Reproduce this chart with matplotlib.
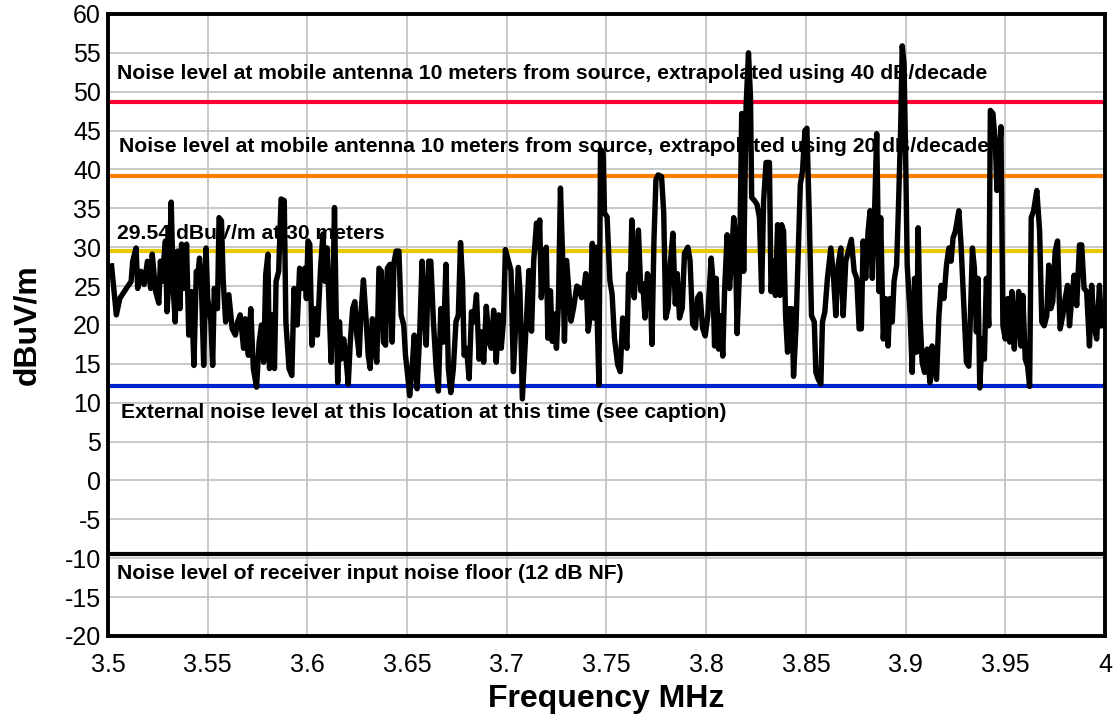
import matplotlib
matplotlib.use("Agg")
import matplotlib.pyplot as plt

plt.rcParams['font.family'] = ['Liberation Sans', 'DejaVu Sans']
plt.rcParams['axes.unicode_minus'] = False

# measured noise trace (MHz, dBuV/m)
freq = [
    3.5018, 3.5042, 3.5059, 3.5092, 3.5116, 3.5124, 3.5141, 3.5149, 3.5165, 3.5181,
    3.5198, 3.5214, 3.5222, 3.5239, 3.5255, 3.5263, 3.5271, 3.5288, 3.5296, 3.5307,
    3.5317, 3.5328, 3.5337, 3.5348, 3.5361, 3.5369, 3.5382, 3.5394, 3.5405, 3.5418,
    3.5431, 3.5443, 3.5451, 3.5459, 3.5467, 3.5480, 3.5492, 3.5500, 3.5516, 3.5525,
    3.5533, 3.5549, 3.5557, 3.5569, 3.5578, 3.5590, 3.5606, 3.5623, 3.5639, 3.5650,
    3.5663, 3.5680, 3.5688, 3.5704, 3.5716, 3.5729, 3.5745, 3.5758, 3.5770, 3.5781,
    3.5791, 3.5802, 3.5810, 3.5822, 3.5835, 3.5843, 3.5856, 3.5868, 3.5884, 3.5892,
    3.5908, 3.5922, 3.5933, 3.5949, 3.5961, 3.5974,
    3.5987, 3.5995, 3.6003, 3.6012, 3.6023, 3.6036, 3.6050, 3.6066, 3.6078, 3.6089,
    3.6099, 3.6111, 3.6119, 3.6127, 3.6136, 3.6144, 3.6152, 3.6161, 3.6169, 3.6182,
    3.6194, 3.6205, 3.6215, 3.6227, 3.6238, 3.6248, 3.6260, 3.6268, 3.6281, 3.6293,
    3.6305, 3.6315, 3.6326, 3.6338, 3.6348, 3.6359, 3.6371, 3.6381, 3.6392, 3.6401,
    3.6414, 3.6425, 3.6434, 3.6445, 3.6459, 3.6470, 3.6483, 3.6492, 3.6503, 3.6513,
    3.6525, 3.6536, 3.6550, 3.6563, 3.6575, 3.6586, 3.6596, 3.6608, 3.6619, 3.6632,
    3.6646, 3.6657, 3.6669, 3.6682, 3.6695, 3.6707, 3.6719, 3.6732, 3.6745, 3.6757,
    3.6768, 3.6778, 3.6786, 3.6798, 3.6811, 3.6823, 3.6834, 3.6848, 3.6861, 3.6873,
    3.6884, 3.6897, 3.6911, 3.6922, 3.6934, 3.6947, 3.6959, 3.6972, 3.6983, 3.6993,
    3.7021, 3.7033, 3.7045, 3.7058, 3.7066, 3.7078, 3.7087, 3.7099, 3.7111, 3.7124,
    3.7135, 3.7149, 3.7157, 3.7165, 3.7173, 3.7186, 3.7198, 3.7206, 3.7219, 3.7228,
    3.7239, 3.7249, 3.7259, 3.7269, 3.7281, 3.7289, 3.7300, 3.7310, 3.7322, 3.7335,
    3.7351, 3.7363, 3.7375, 3.7384, 3.7396, 3.7408, 3.7417, 3.7429, 3.7437, 3.7447,
    3.7454, 3.7462, 3.7470, 3.7483, 3.7490, 3.7503, 3.7517, 3.7528, 3.7540, 3.7556,
    3.7569, 3.7581, 3.7594, 3.7602, 3.7611, 3.7619, 3.7627, 3.7639, 3.7649, 3.7660,
    3.7672, 3.7682, 3.7693, 3.7705, 3.7718, 3.7728, 3.7738, 3.7748, 3.7759, 3.7776,
    3.7787, 3.7797, 3.7809, 3.7820, 3.7833, 3.7845, 3.7855, 3.7866, 3.7880, 3.7891,
    3.7908, 3.7919, 3.7932, 3.7946, 3.7957, 3.7969, 3.7982,
    3.7995, 3.8008, 3.8025, 3.8033, 3.8042, 3.8050, 3.8062, 3.8075, 3.8083, 3.8092,
    3.8105, 3.8117, 3.8125, 3.8138, 3.8145, 3.8155, 3.8167, 3.8178, 3.8188, 3.8200,
    3.8212, 3.8222, 3.8228, 3.8242, 3.8255, 3.8267, 3.8278, 3.8288, 3.8300, 3.8317,
    3.8325, 3.8338, 3.8347, 3.8358, 3.8370, 3.8378, 3.8388, 3.8398, 3.8408, 3.8417,
    3.8430, 3.8438, 3.8450, 3.8462, 3.8472, 3.8483, 3.8495, 3.8505, 3.8517, 3.8528,
    3.8542, 3.8550, 3.8562, 3.8575, 3.8583, 3.8595, 3.8608, 3.8625, 3.8638, 3.8650,
    3.8662, 3.8675, 3.8687, 3.8700, 3.8717, 3.8728, 3.8742, 3.8755, 3.8767, 3.8778,
    3.8787, 3.8800, 3.8812, 3.8822, 3.8833, 3.8845, 3.8855, 3.8867, 3.8875, 3.8888,
    3.8900, 3.8912, 3.8922, 3.8933, 3.8942, 3.8955, 3.8963, 3.8975, 3.8983,
    3.8992, 3.9000, 3.9008, 3.9022, 3.9033, 3.9045, 3.9055, 3.9063, 3.9072, 3.9083,
    3.9095, 3.9108, 3.9122, 3.9133, 3.9142, 3.9155, 3.9167, 3.9178, 3.9192, 3.9205,
    3.9217, 3.9228, 3.9238, 3.9250, 3.9267, 3.9278, 3.9292, 3.9305, 3.9317, 3.9325,
    3.9335, 3.9345, 3.9355, 3.9363, 3.9372, 3.9383, 3.9395, 3.9405, 3.9417, 3.9425,
    3.9438, 3.9450, 3.9458, 3.9467, 3.9478, 3.9488, 3.9500, 3.9512, 3.9522, 3.9533,
    3.9545, 3.9555, 3.9567, 3.9578, 3.9588, 3.9600, 3.9612, 3.9622, 3.9630, 3.9642,
    3.9658, 3.9672, 3.9683, 3.9695, 3.9708, 3.9718, 3.9728, 3.9738, 3.9750, 3.9762,
    3.9775, 3.9788, 3.9800, 3.9812, 3.9822, 3.9833, 3.9845, 3.9858, 3.9872, 3.9883,
    3.9895, 3.9908, 3.9922, 3.9933, 3.9945, 3.9958, 3.9972, 3.9983,
]
level = [
    27.6, 21.3, 23.4, 24.7, 25.6, 28.2, 29.9, 24.7, 26.9, 25.2,
    28.2, 24.7, 29.1, 24.3, 22.8, 28.2, 25.6, 30.8, 21.7, 26.5,
    35.8, 24.3, 20.4, 29.5, 22.1, 30.4, 24.7, 30.4, 18.7, 24.3,
    14.8, 26.9, 26.5, 28.6, 26.5, 14.8, 29.9, 23.4, 20.4, 14.8,
    24.7, 22.1, 33.8, 33.4, 25.6, 20.4, 23.9, 19.5, 18.7, 20.4,
    21.3, 17.0, 20.8, 16.1, 22.1, 14.4, 12.0, 17.8, 20.0, 15.2,
    26.5, 29.1, 14.4, 21.3, 14.4, 25.6, 26.9, 36.2, 36.0, 20.4,
    14.4, 13.5, 24.7, 20.0, 27.3, 24.7,
    27.3, 23.4, 30.8, 30.4, 17.4, 22.1, 18.7, 27.3, 31.7, 25.6,
    29.9, 20.8, 15.2, 23.4, 35.1, 22.1, 12.6, 20.4, 15.6, 18.2,
    15.6, 12.4, 17.8, 22.1, 23.0, 18.7, 16.1, 21.3, 25.8, 21.3,
    16.1, 14.4, 20.8, 17.0, 15.2, 27.3, 26.9, 17.8, 17.4, 27.3,
    27.8, 17.8, 28.0, 29.5, 29.5, 21.3, 20.0, 16.1, 13.5, 10.9,
    14.4, 18.7, 11.8, 18.7, 28.2, 21.7, 17.4, 28.2, 28.2, 20.4,
    14.4, 11.5, 22.1, 17.8, 27.8, 14.4, 11.3, 14.4, 20.4, 21.3,
    30.6, 25.6, 16.1, 17.0, 13.1, 21.7, 20.4, 23.9, 15.6, 19.1,
    15.2, 22.4, 17.8, 17.0, 21.9, 15.2, 21.3, 17.0, 20.4, 29.7,
    27.0, 14.0, 20.1, 27.4, 24.4, 10.5, 14.9, 20.9, 27.0, 19.2,
    28.3, 33.1, 30.0, 33.5, 23.5, 28.7, 30.0, 18.3, 24.4, 17.9,
    21.4, 17.0, 22.7, 37.6, 27.9, 17.9, 28.3, 24.8, 20.5, 22.2,
    25.0, 24.8, 23.5, 24.0, 26.6, 19.2, 20.9, 30.5, 20.9, 30.0,
    20.1, 12.3, 42.6, 42.1, 34.4, 33.9, 25.7, 24.0, 18.3, 14.9,
    14.0, 20.9, 19.6, 17.0, 26.6, 24.4, 33.5, 23.5, 27.9, 32.2,
    24.4, 25.3, 20.9, 26.6, 25.7, 17.5, 30.9, 38.7, 39.3, 39.1,
    34.4, 20.9, 22.2, 27.9, 31.8, 22.7, 26.6, 20.9, 22.2, 29.2,
    30.0, 28.3, 20.1, 19.6, 23.5, 24.0, 19.6,
    18.6, 21.2, 28.6, 26.0, 17.3, 26.0, 16.9, 21.2, 16.0, 24.3,
    31.6, 24.7, 27.7, 33.8, 32.1, 18.9, 26.9, 47.2, 26.9, 48.1,
    55.0, 49.4, 36.4, 36.0, 35.5, 33.8, 24.3, 36.0, 40.9, 40.9,
    24.3, 28.2, 23.8, 32.9, 23.8, 32.9, 32.1, 21.2, 16.5, 22.1,
    22.1, 13.4, 19.5, 29.9, 38.1, 39.8, 45.0, 45.3, 33.8, 21.2,
    20.4, 13.9, 13.0, 12.4, 20.4, 21.7, 26.0, 29.9, 26.4, 21.2,
    27.7, 29.9, 21.2, 28.2, 29.9, 31.0, 26.9, 26.0, 19.5, 19.5,
    30.8, 26.0, 32.1, 34.7, 26.0, 35.1, 44.6, 24.3, 33.8, 18.2,
    23.4, 17.3, 23.4, 20.4, 25.6, 27.7, 34.2, 45.0, 55.9,
    53.7, 42.0, 27.7, 21.7, 13.9, 26.0, 16.5, 32.5, 21.2, 15.2,
    13.9, 16.9, 12.6, 17.3, 14.7, 13.0, 21.2, 25.1, 23.4, 27.7,
    29.9, 28.2, 31.2, 32.1, 34.7, 30.3, 22.5, 15.2, 14.7, 21.2,
    29.9, 27.3, 19.1, 26.0, 11.9, 18.2, 15.6, 26.0, 19.9, 47.6,
    47.2, 43.3, 37.3, 39.8, 45.5, 19.9, 18.2, 23.4, 17.8, 24.3,
    16.9, 20.8, 24.3, 17.3, 23.8, 15.6, 14.7, 12.1, 33.8, 34.7,
    37.3, 32.1, 20.4, 19.9, 21.2, 27.7, 22.1, 23.0, 29.5, 30.8,
    19.5, 21.2, 23.4, 25.1, 19.9, 23.4, 26.4, 22.5, 30.3, 30.3,
    24.7, 24.3, 17.3, 25.1, 19.9, 18.2, 25.1, 19.9,
]

# reference levels (dBuV/m)
ref_levels = [48.7, 39.2, 29.54, 12.1, -9.4]
ref_colors = ['#FF0033', '#FF8000', '#E8C800', '#0022CC', '#000000']
ref_labels = [
    'Noise level at mobile antenna 10 meters from source, extrapolated using 40 dB/decade',
    'Noise level at mobile antenna 10 meters from source, extrapolated using 20 dB/decade',
    '29.54 dBuV/m at 30 meters',
    'External noise level at this location at this time (see caption)',
    'Noise level of receiver input noise floor (12 dB NF)',
]
label_y = [52.4, 43.0, 31.8, 8.8, -12.0]
label_x = [3.5045, 3.5055, 3.5045, 3.5065, 3.5045]

x_ticks = [3.5, 3.55, 3.6, 3.65, 3.7, 3.75, 3.8, 3.85, 3.9, 3.95, 4.0]
x_tick_labels = ['3.5', '3.55', '3.6', '3.65', '3.7', '3.75', '3.8', '3.85', '3.9', '3.95', '4']
y_ticks = list(range(-20, 61, 5))

fig = plt.figure(figsize=(11.19, 7.17), dpi=100)
ax = fig.add_axes([0.0965, 0.113, 0.891, 0.8675])

for lv, c in zip(ref_levels, ref_colors):
    ax.axhline(lv, color=c, linewidth=3.0, zorder=2)

ax.plot(freq, level, color='black', linewidth=3.9, solid_joinstyle='round', zorder=3)

for tx, ty, t in zip(label_x, label_y, ref_labels):
    ax.text(tx, ty, t, fontsize=15.2, fontweight='bold', va='center', ha='left', zorder=4)

ax.set_xlim(3.5, 4.0)
ax.set_ylim(-20, 60)
ax.set_xticks(x_ticks)
ax.set_xticklabels(x_tick_labels)
ax.set_yticks(y_ticks)
ax.tick_params(length=0, labelsize=18)
ax.tick_params(axis='x', pad=12)
ax.tick_params(axis='y', pad=5)
ax.grid(True, color='#C0C0C0', linewidth=1.2, zorder=0)
ax.set_axisbelow(True)
for s in ax.spines.values():
    s.set_linewidth(2.8)

ax.set_xlabel('Frequency MHz', fontsize=23, fontweight='bold', labelpad=5)
ax.set_ylabel('dBuV/m', fontsize=23, fontweight='bold', labelpad=16)

fig.savefig('out.png', dpi=100)
